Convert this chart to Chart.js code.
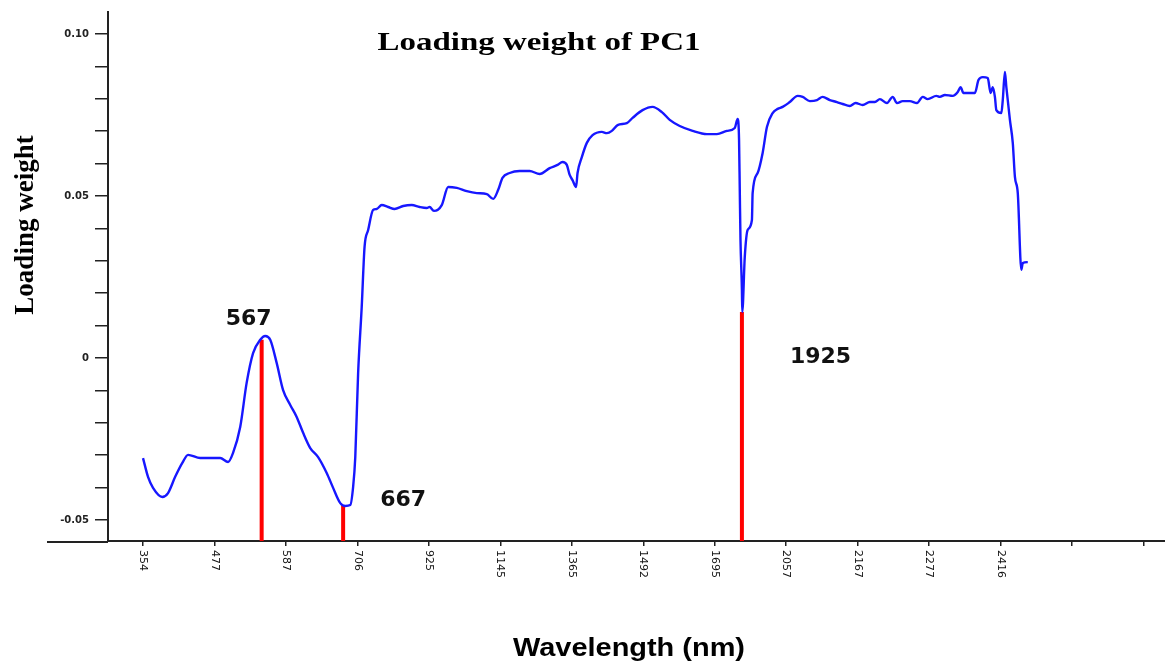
<!DOCTYPE html>
<html>
<head>
<meta charset="utf-8">
<title>Loading weight of PC1</title>
<script src="https://cdn.jsdelivr.net/npm/chart.js@4.4.1/dist/chart.umd.min.js"></script>
<style>
  html, body { margin: 0; padding: 0; background: #fff; }
  #wrap { width: 1165px; height: 661px; position: relative; }
</style>
</head>
<body>
<div id="wrap"><canvas id="pc1"></canvas></div>
<script>
// x positions are in tick units of the band axis (tick i sits at i)
const xTickLabels = ['354','477','587','706','925','1145','1365','1492','1695','2057','2167','2277','2416','',''];

const bandPos = [0.00,0.07,0.14,0.27,0.35,0.45,0.55,0.63,0.80,1.08,
  1.19,1.26,1.36,1.45,1.54,1.64,1.71,1.78,1.87,1.96,
  2.06,2.15,2.24,2.34,2.45,2.57,2.66,2.76,2.83,2.90,
  2.94,2.97,3.01,3.06,3.10,3.15,3.22,3.27,3.34,3.43,
  3.52,3.64,3.76,3.87,3.97,4.01,4.07,4.18,4.27,4.39,
  4.53,4.67,4.81,4.90,4.97,5.03,5.13,5.27,5.41,5.55,
  5.69,5.80,5.87,5.93,5.97,6.01,6.06,6.08,6.14,6.21,
  6.29,6.42,6.49,6.56,6.64,6.77,6.85,6.99,7.13,7.26,
  7.37,7.51,7.69,7.89,8.03,8.17,8.28,8.32,8.34,8.35,
  8.36,8.38,8.385,8.42,8.46,8.52,8.53,8.60,8.67,8.73,
  8.81,8.88,8.95,9.05,9.16,9.23,9.33,9.43,9.51,9.61,
  9.71,9.79,9.89,9.97,10.07,10.17,10.24,10.31,10.41,10.49,
  10.55,10.63,10.73,10.83,10.91,10.98,11.10,11.15,11.22,11.33,
  11.40,11.44,11.48,11.54,11.64,11.69,11.75,11.82,11.86,11.89,
  11.92,11.94,12.01,12.03,12.06,12.08,12.13,12.17,12.20,12.24,
  12.29,12.31,12.38];

const loadingPC1 = [-0.0309,-0.0367,-0.0401,-0.0429,-0.0417,-0.0367,-0.0324,-0.0299,-0.0309,-0.0309,
  -0.0321,-0.0293,-0.0213,-0.0077,0.0015,0.0056,0.0068,0.0056,-0.0015,-0.0099,
  -0.0145,-0.0182,-0.0231,-0.0278,-0.0306,-0.0355,-0.0401,-0.0448,-0.0457,-0.0454,
  -0.0398,-0.0306,-0.0046,0.0157,0.0343,0.0395,0.0457,0.0460,0.0472,0.0466,
  0.0460,0.0469,0.0472,0.0466,0.0463,0.0466,0.0454,0.0472,0.0528,0.0525,
  0.0515,0.0509,0.0506,0.0491,0.0519,0.0556,0.0571,0.0577,0.0577,0.0568,
  0.0586,0.0596,0.0605,0.0596,0.0565,0.0549,0.0528,0.0571,0.0620,0.0664,
  0.0688,0.0698,0.0694,0.0701,0.0719,0.0725,0.0741,0.0765,0.0775,0.0759,
  0.0735,0.0716,0.0701,0.0691,0.0691,0.0701,0.0710,0.0738,0.0673,0.0519,
  0.0364,0.0210,0.0142,0.0312,0.0395,0.0426,0.0509,0.0571,0.0633,0.0713,
  0.0756,0.0769,0.0775,0.0790,0.0809,0.0806,0.0793,0.0796,0.0806,0.0796,
  0.0790,0.0784,0.0778,0.0787,0.0781,0.0790,0.0790,0.0799,0.0787,0.0806,
  0.0787,0.0793,0.0793,0.0787,0.0806,0.0799,0.0809,0.0806,0.0812,0.0809,
  0.0821,0.0836,0.0818,0.0818,0.0818,0.0858,0.0867,0.0864,0.0818,0.0836,
  0.0806,0.0765,0.0756,0.0796,0.0883,0.0836,0.0735,0.0664,0.0559,0.0509,
  0.0272,0.0293,0.0296];

// selected wavelengths (red stems)
const peakLabels = ['567', '667', '1925'];
const peakPos    = [1.66, 2.80, 8.38];
const peakValue  = [0.0056, -0.0454, 0.0142];

const yLabelValues = [-0.05, 0, 0.05, 0.10];
const yLabelText   = ['-0.05', '0', '0.05', '0.10'];

const Y_MIN = -0.0565, Y_MAX = 0.1068;
const X_MIN = -0.49,   X_MAX = 14.3;

// where each stem label sits relative to the top of its stem
const peakLabelPlace = [
  { dx: -13, dy: -15, align: 'center' },
  { dx: 37,  dy: 1,   align: 'left' },
  { dx: 48,  dy: 51,  align: 'left' }
];

function stretchText(ctx, text, x, y, width, align){
  const w = ctx.measureText(text).width;
  ctx.save();
  ctx.translate(x, y);
  ctx.scale(width / w, 1);
  ctx.textAlign = align;
  ctx.fillText(text, 0, 0);
  ctx.restore();
}

const decor = {
  id: 'decor',
  afterDraw(chart){
    const { ctx, scales: { x, y }, chartArea } = chart;
    ctx.save();

    // x axis line runs on past the y axis
    ctx.strokeStyle = '#222';
    ctx.lineWidth = 2;
    ctx.beginPath();
    ctx.moveTo(47, chartArea.bottom + 1);
    ctx.lineTo(chartArea.left, chartArea.bottom + 1);
    ctx.stroke();

    ctx.fillStyle = '#111';

    // rotated band labels under the axis
    ctx.font = '11px "DejaVu Sans"';
    ctx.textAlign = 'left';
    ctx.textBaseline = 'middle';
    xTickLabels.forEach((lab, i) => {
      if (!lab) return;
      ctx.save();
      ctx.translate(x.getPixelForValue(i), chartArea.bottom + 9);
      ctx.rotate(Math.PI / 2);
      ctx.fillText(lab, 0, 0);
      ctx.restore();
    });

    ctx.textBaseline = 'alphabetic';

    // stem labels
    ctx.font = 'bold 22px "DejaVu Sans"';
    ctx.fillStyle = '#111';
    peakLabels.forEach((lab, i) => {
      const p = peakLabelPlace[i];
      ctx.textAlign = p.align;
      ctx.fillText(lab, x.getPixelForValue(peakPos[i]) + p.dx, y.getPixelForValue(peakValue[i]) + p.dy);
    });

    // titles
    ctx.fillStyle = '#000';
    ctx.font = 'bold 25px "Liberation Serif"';
    stretchText(ctx, 'Loading weight of PC1', 539, 50, 323, 'center');

    ctx.font = 'bold 26px "Liberation Sans"';
    stretchText(ctx, 'Wavelength (nm)', 629, 656, 232, 'center');

    ctx.font = 'bold 27px "Liberation Serif"';
    ctx.save();
    ctx.translate(33, 225);
    ctx.rotate(-Math.PI / 2);
    ctx.textAlign = 'center';
    ctx.fillText('Loading weight', 0, 0);
    ctx.restore();

    ctx.restore();
  }
};

const curve = bandPos.map((b, i) => ({ x: b, y: loadingPC1[i] }));
const stems = peakPos.map((b, i) => ({
  data: [{ x: b, y: Y_MIN }, { x: b, y: peakValue[i] }],
  borderColor: '#ff0000',
  borderWidth: 4,
  pointRadius: 0,
  borderCapStyle: 'butt'
}));

new Chart(document.getElementById('pc1'), {
  type: 'line',
  data: {
    datasets: [
      {
        data: curve,
        borderColor: '#1717ff',
        borderWidth: 2.4,
        pointRadius: 0,
        cubicInterpolationMode: 'monotone'
      },
      ...stems
    ]
  },
  options: {
    responsive: true,
    maintainAspectRatio: false,
    animation: false,
    layout: { padding: { top: 12, left: 0, right: 0, bottom: 0 } },
    plugins: { legend: { display: false }, tooltip: { enabled: false }, title: { display: false } },
    scales: {
      x: {
        type: 'linear',
        min: X_MIN, max: X_MAX,
        grid: { drawOnChartArea: false, tickLength: 5, color: '#222', lineWidth: 1.5 },
        border: { color: '#222', width: 2 },
        ticks: { display: false },
        afterBuildTicks: s => { s.ticks = xTickLabels.map((_, i) => ({ value: i })); },
        afterFit: s => { s.height = 120; }
      },
      y: {
        min: Y_MIN, max: Y_MAX,
        grid: { drawOnChartArea: false, tickLength: 13, color: '#222', lineWidth: 1.5 },
        border: { color: '#222', width: 2 },
        ticks: {
          stepSize: 0.01,
          includeBounds: false,
          padding: 6,
          color: '#222',
          font: { family: 'DejaVu Sans', size: 10, weight: 'bold' },
          callback: v => {
            const k = yLabelValues.findIndex(t => Math.abs(t - v) < 1e-6);
            return k < 0 ? '' : yLabelText[k];
          }
        },
        afterFit: s => { s.width = 108; }
      }
    }
  },
  plugins: [decor]
});
</script>
</body>
</html>
